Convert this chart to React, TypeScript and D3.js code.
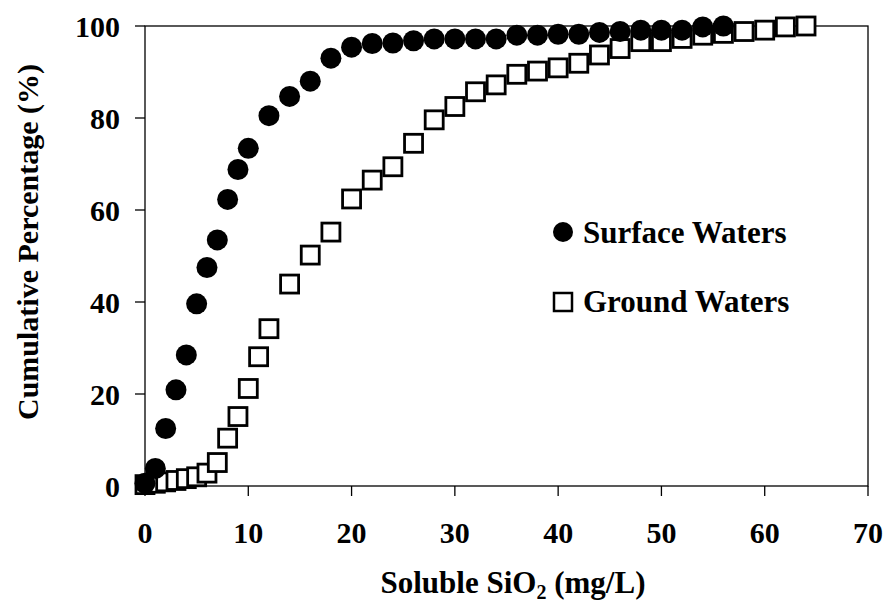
import React from "react";
import * as d3 from "d3";

const surfaceX = [0, 1, 2, 3, 4, 5, 6, 7, 8, 9, 10, 12, 14, 16, 18, 20, 22, 24, 26, 28, 30, 32, 34, 36, 38, 40, 42, 44, 46, 48, 50, 52, 54, 56];
const surfaceY = [0.6, 3.8, 12.5, 20.9, 28.5, 39.6, 47.5, 53.5, 62.3, 68.8, 73.4, 80.5, 84.7, 88.0, 93.0, 95.4, 96.2, 96.3, 96.8, 97.2, 97.2, 97.2, 97.2, 98.0, 98.0, 98.2, 98.2, 98.6, 98.8, 99.1, 99.1, 99.1, 99.8, 100];

const groundX = [0, 1, 2, 3, 4, 5, 6, 7, 8, 9, 10, 11, 12, 14, 16, 18, 20, 22, 24, 26, 28, 30, 32, 34, 36, 38, 40, 42, 44, 46, 48, 50, 52, 54, 56, 58, 60, 62, 64];
const groundY = [0.3, 0.6, 0.9, 1.2, 1.6, 2.0, 2.8, 5.1, 10.4, 15.1, 21.2, 28.1, 34.2, 43.9, 50.2, 55.2, 62.4, 66.5, 69.4, 74.5, 79.6, 82.5, 85.7, 87.2, 89.5, 90.2, 90.9, 91.9, 93.7, 95.1, 96.6, 96.6, 97.3, 98.0, 98.4, 98.8, 99.1, 99.8, 100];

const xTicks = [0, 10, 20, 30, 40, 50, 60, 70];
const yTicks = [0, 20, 40, 60, 80, 100];
const legendLabels = ["Surface Waters", "Ground Waters"];

const W = 886;
const H = 603;
const left = 145;
const right = 868;
const top = 26;
const bottom = 486;
const FONT = "'Liberation Serif', 'Times New Roman', serif";

export default function App() {
  const x = d3.scaleLinear().domain([0, 70]).range([left, right]);
  const y = d3.scaleLinear().domain([0, 100]).range([bottom, top]);
  const sq = 18;

  return (
    <svg width={W} height={H} style={{ position: "absolute", left: 0, top: 0, background: "#fff" }} fontFamily={FONT} fontWeight="bold">
      <rect x={0} y={0} width={W} height={H} fill="#fff" />
      <rect x={left} y={top} width={right - left} height={bottom - top} fill="none" stroke="#000" strokeWidth={1.3} />
      {yTicks.map((t) => (
        <g key={"y" + t}>
          <line x1={left - 10} x2={left} y1={y(t)} y2={y(t)} stroke="#000" strokeWidth={1.3} />
          <text x={120} y={y(t)} dy="0.35em" textAnchor="end" fontSize={30}>{t}</text>
        </g>
      ))}
      {xTicks.map((t) => (
        <g key={"x" + t}>
          <line x1={x(t)} x2={x(t)} y1={bottom} y2={bottom + 10} stroke="#000" strokeWidth={1.3} />
          <text x={x(t)} y={543} textAnchor="middle" fontSize={30}>{t}</text>
        </g>
      ))}
      {groundX.map((v, i) => (
        <rect key={"g" + i} x={x(v) - sq / 2} y={y(groundY[i]) - sq / 2} width={sq} height={sq} fill="#fff" stroke="#000" strokeWidth={2.8} />
      ))}
      {surfaceX.map((v, i) => (
        <circle key={"s" + i} cx={x(v)} cy={y(surfaceY[i])} r={10.5} fill="#000" />
      ))}
      <circle cx={563} cy={232} r={10} fill="#000" />
      <text x={583} y={243} fontSize={31}>{legendLabels[0]}</text>
      <rect x={563 - 9} y={302 - 9} width={18} height={18} fill="#fff" stroke="#000" strokeWidth={2.5} />
      <text x={583} y={312} fontSize={31}>{legendLabels[1]}</text>
      <text x={513} y={593} textAnchor="middle" fontSize={31}>
        Soluble SiO<tspan fontSize={20} dy={6}>2</tspan><tspan dy={-6}> (mg/L)</tspan>
      </text>
      <text transform={`translate(38,242) rotate(-90)`} textAnchor="middle" fontSize={30}>Cumulative Percentage (%)</text>
    </svg>
  );
}
